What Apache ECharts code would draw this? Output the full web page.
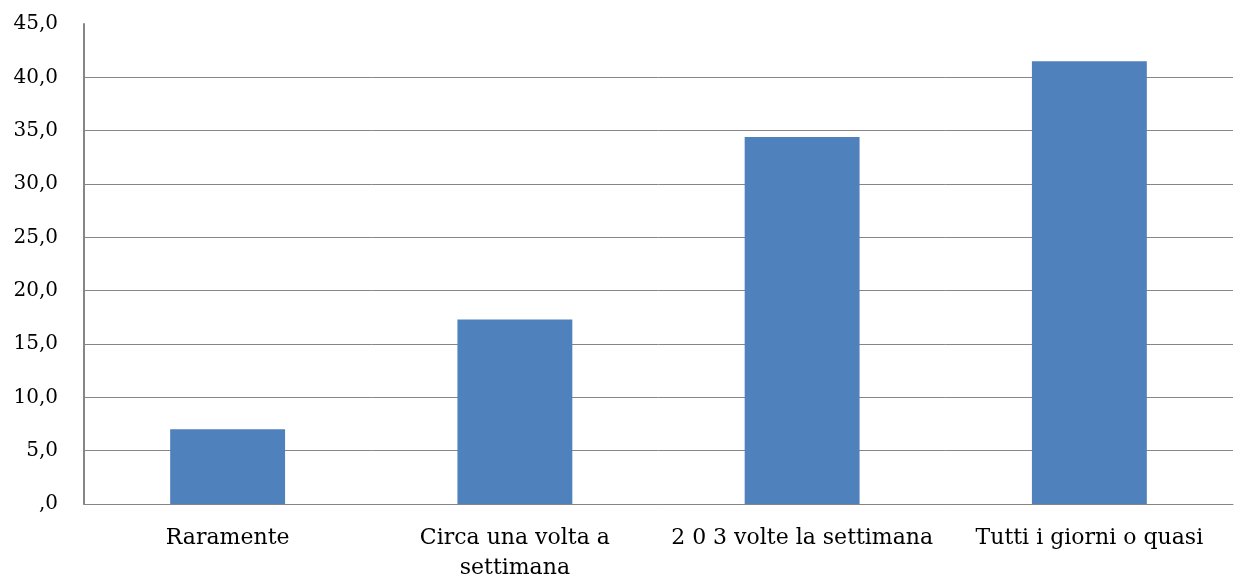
<!DOCTYPE html>
<html>
<head>
<meta charset="utf-8">
<script src="https://cdn.jsdelivr.net/npm/echarts@6/dist/echarts.min.js"></script>
<style>html,body{margin:0;padding:0;background:#fff;overflow:hidden}#c{width:1242px;height:583px}</style>
</head>
<body>
<div id="c"></div>
<script>
const categories = ['Raramente', 'Circa una volta a\nsettimana', '2 0 3 volte la settimana', 'Tutti i giorni o quasi'];
const values = [7.0, 17.3, 34.4, 41.5];
const yTicks = [0, 5, 10, 15, 20, 25, 30, 35, 40, 45];

const chart = echarts.init(document.getElementById('c'));
const gridColors = yTicks.map((v, i) => i === yTicks.length - 1 ? 'rgba(0,0,0,0)' : '#868686');
chart.setOption({
  animation: false,
  grid: { left: 84, right: 9, top: 24, bottom: 75, containLabel: false },
  xAxis: {
    type: 'category',
    data: categories,
    axisLine: { show: true, lineStyle: { color: '#868686', width: 1 } },
    axisTick: { show: false },
    axisLabel: { color: '#000', fontFamily: 'DejaVu Serif', fontSize: 22, lineHeight: 30, margin: 19, interval: 0 }
  },
  yAxis: {
    type: 'value',
    min: 0, max: 45, interval: 5,
    axisLine: { show: true, lineStyle: { color: '#868686', width: 2 } },
    axisTick: { show: false },
    splitLine: { show: true, lineStyle: { color: gridColors, width: 1 } },
    axisLabel: {
      color: '#000', fontFamily: 'DejaVu Serif', fontSize: 20, margin: 26,
      formatter: v => v === 0 ? ',0' : v.toFixed(1).replace('.', ',')
    }
  },
  series: [{
    type: 'bar',
    data: values,
    barWidth: '40%',
    itemStyle: { color: '#4F81BD' }
  }]
});
</script>
</body>
</html>
